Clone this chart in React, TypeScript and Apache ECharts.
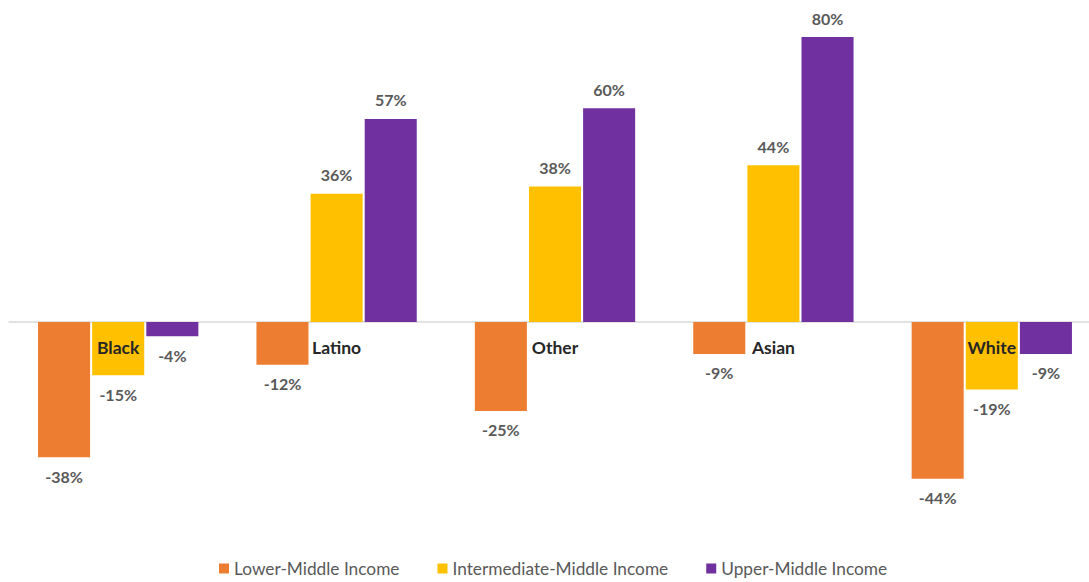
import React, { useEffect, useRef } from "react";
import * as echarts from "echarts";

const categories = ["Black", "Latino", "Other", "Asian", "White"];
const lowerMiddle = [-38, -12, -25, -9, -44];
const intermediateMiddle = [-15, 36, 38, 44, -19];
const upperMiddle = [-4, 57, 60, 80, -9];
const seriesNames = ["Lower-Middle Income", "Intermediate-Middle Income", "Upper-Middle Income"];
const colors = ["#ED7D31", "#FFC000", "#7030A0"];

export default function App() {
  const ref = useRef<HTMLDivElement>(null);
  useEffect(() => {
    const chart = echarts.init(ref.current!, null, { renderer: "svg" });
    const font = "Lato, 'Noto Sans', sans-serif";
    const mk = (name: string, data: number[], color: string) => ({
      name,
      type: "bar",
      data: data.map((v) => ({
        value: v,
        label: { position: v >= 0 ? "top" : "bottom" },
      })),
      itemStyle: { color },
      barGap: "4%",
      barCategoryGap: "26.6%",
      label: {
        show: true,
        formatter: (p: any) => p.value + "%",
        color: "#595959",
        fontWeight: "bold",
        fontSize: 16,
        fontFamily: font,
        distance: 11,
      },
    });
    chart.setOption({
      animation: false,
      textStyle: { fontFamily: font },
      grid: { left: 9, width: 1092, top: 37, height: 463, containLabel: false },
      legend: {
        bottom: 0,
        left: 214,
        itemWidth: 10,
        itemHeight: 10,
        itemGap: 38,
        icon: "rect",
        textStyle: { color: "#595959", fontSize: 17.3, fontFamily: font },
        data: seriesNames,
      },
      xAxis: {
        type: "category",
        data: categories,
        axisLine: { onZero: true, lineStyle: { color: "#D9D9D9", width: 1.5 } },
        axisTick: { show: false },
        axisLabel: { show: false },
      },
      yAxis: {
        type: "value",
        min: -50,
        max: 80,
        show: false,
        splitLine: { show: false },
      },
      series: [
        mk(seriesNames[0], lowerMiddle, colors[0]),
        mk(seriesNames[1], intermediateMiddle, colors[1]),
        mk(seriesNames[2], upperMiddle, colors[2]),
        {
          type: "scatter",
          data: categories.map((c) => [c, 0]),
          symbolSize: 0,
          silent: true,
          z: 10,
          itemStyle: { opacity: 1 },
          label: {
            show: true,
            position: "bottom",
            distance: 17,
            opacity: 1,
            formatter: (p: any) => p.value[0],
            color: "#262626",
            fontWeight: "bold",
            fontSize: 17.5,
            fontFamily: font,
          },
        },
      ],
    });
    return () => chart.dispose();
  }, []);
  return (
    <div style={{ width: 1089, height: 582, position: "absolute", left: 0, top: 0, overflow: "hidden" }}>
      <div ref={ref} style={{ width: 1110, height: 582 }} />
    </div>
  );
}
